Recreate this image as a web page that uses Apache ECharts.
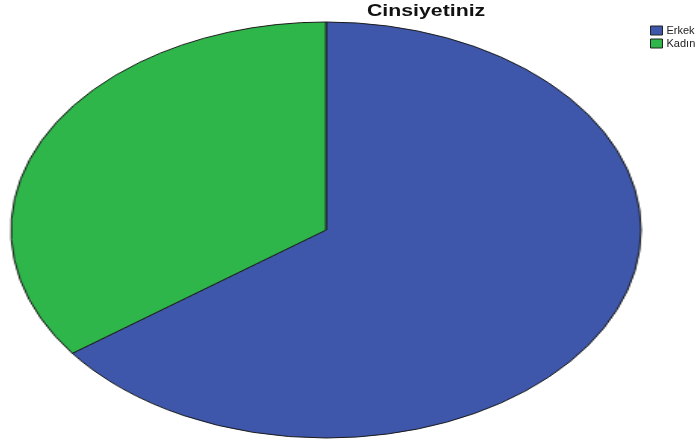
<!DOCTYPE html>
<html>
<head>
<meta charset="utf-8">
<script src="https://cdn.jsdelivr.net/npm/echarts@6/dist/echarts.min.js"></script>
<style>
  html, body { margin: 0; padding: 0; background: #fff; }
  #wrap { position: relative; width: 698px; height: 441px; overflow: hidden; }
  /* pie drawn as a circle, then stretched horizontally into the SPSS-style ellipse */
  #pie { position: absolute; left: 116px; top: 20px; width: 420px; height: 420px;
         transform: scaleX(1.5144); transform-origin: 50% 50%; }
  #overlay { position: absolute; left: 0; top: 0; width: 698px; height: 441px; pointer-events: none; }
</style>
</head>
<body>
<div id="wrap">
  <div id="pie"></div>
  <div id="overlay"></div>
</div>
<script>
  // Datos del gráfico
  const categorias = ["Erkek", "Kadın"];
  const valores = [64.9, 35.1];
  const colores = ["#3e57aa", "#2eb64a"];
  const titulo = "Cinsiyetiniz";

  const datos = categorias.map((nombre, i) => ({
    name: nombre,
    value: valores[i],
    itemStyle: { color: colores[i] },
  }));

  // Pie (se estira con CSS para que quede elíptico)
  const pieChart = echarts.init(document.getElementById("pie"));
  pieChart.setOption({
    animation: false,
    series: [
      {
        type: "pie",
        center: ["50%", "50%"],
        radius: [0, 208],
        startAngle: 90,
        clockwise: true,
        label: { show: false },
        labelLine: { show: false },
        itemStyle: { borderColor: "#1a1a1a", borderWidth: 1 },
        emphasis: { disabled: true },
        data: datos,
      },
    ],
  });

  // Título y leyenda sin deformar
  const overlay = echarts.init(document.getElementById("overlay"));
  overlay.setOption({
    animation: false,
    // el título del original sale un poco ensanchado
    graphic: [
      {
        type: "text",
        x: 367,
        y: 4,
        scaleX: 1.33,
        style: {
          text: titulo,
          font: "bold 16px 'Liberation Sans', Arial, sans-serif",
          fill: "#111",
        },
      },
    ],
    legend: {
      orient: "vertical",
      left: 645,
      top: 20,
      itemWidth: 12,
      itemHeight: 9,
      itemGap: 2,
      icon: "rect",
      selectedMode: false,
      data: categorias,
      itemStyle: { borderColor: "#222", borderWidth: 1 },
      textStyle: {
        fontFamily: "Liberation Sans, Arial, sans-serif",
        fontSize: 11,
        color: "#222",
        padding: [0, 0, 0, -1],
      },
    },
    series: [
      {
        // solo para alimentar la leyenda
        type: "pie",
        radius: [0, 0],
        silent: true,
        label: { show: false },
        data: datos,
      },
    ],
  });
</script>
</body>
</html>
